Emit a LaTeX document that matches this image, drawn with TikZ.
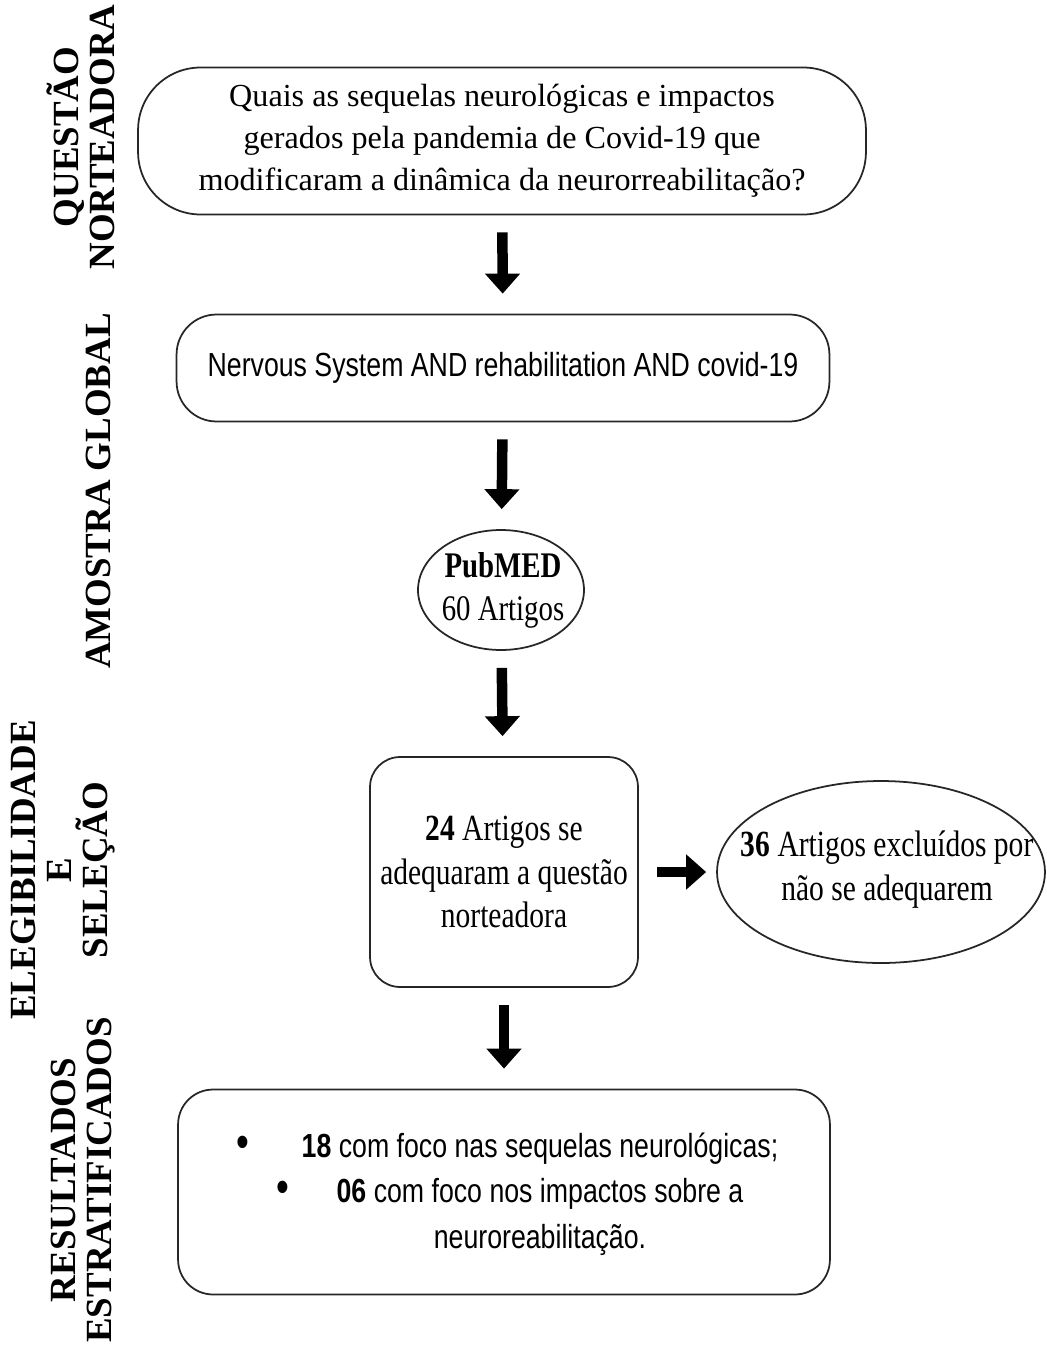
\documentclass[tikz,border=0pt]{standalone}
\usepackage{fontspec}
\setmainfont{Liberation Serif}
\newfontfamily\narrowserif[FakeStretch=0.8]{Liberation Serif}
\newfontfamily\narrowsans[FakeStretch=0.8]{Liberation Sans}
\usepackage{tikz}
\usetikzlibrary{positioning,shapes.geometric,arrows.meta}

\newcommand{\bigbullet}{{\fontsize{26}{26}\selectfont\textbullet}}

\begin{document}
\begin{tikzpicture}[x=0.02cm, y=-0.02cm,
                    flowbox/.style={draw=black!85, line width=1pt, align=center, inner sep=0pt},
                    ovalbox/.style={flowbox, ellipse},
                    sidelbl/.style={rotate=90, align=center, inner sep=0pt,
                                    font=\bfseries\fontsize{21}{20.5}\selectfont},
                    arr/.style={-{Triangle[length=0.4cm,width=0.68cm]}, line width=0.21cm,
                                shorten <=0.34cm, shorten >=0.4cm}
                ]
    \useasboundingbox (0,0) rectangle (1046,1349);

    % side labels
    \node[sidelbl] (lq) at (81,137) {QUEST\~AO\\NORTEADORA};
    \node[sidelbl] (la) at (98,491) {AMOSTRA GLOBAL};
    \node[sidelbl] (le) at (63,870) {ELEGIBILIDADE\\E\\SELE\c{C}\~AO};
    \node[sidelbl] (lr) at (81,1180) {RESULTADOS\\ESTRATIFICADOS};

    % flow
    \node[flowbox, minimum width=14.56cm, minimum height=2.94cm, rounded corners=1.25cm,
          font=\fontsize{18.3}{24}\selectfont] (quest) at (502,141)
        {Quais as sequelas neurológicas e impactos\\gerados pela pandemia de Covid-19 que\\modificaram a dinâmica da neurorreabilitação?};
    \node[flowbox, minimum width=13.06cm, minimum height=2.14cm, rounded corners=0.8cm,
          font=\narrowsans\fontsize{19}{22}\selectfont] (busca) at (503,368)
        {Nervous System AND rehabilitation AND covid-19};
    \node[ovalbox, minimum width=3.32cm, minimum height=2.4cm] (pub) at (501,590) {};
    \node[align=center, font=\narrowserif\fontsize{20.5}{24.5}\selectfont] (pubtxt) at (503,590)
        {\textbf{PubMED}\\60 Artigos};
    \node[flowbox, minimum width=5.36cm, minimum height=4.6cm, rounded corners=0.6cm,
          font=\narrowserif\fontsize{21}{25}\selectfont] (incl) at (504,872)
        {\textbf{24} Artigos se\\adequaram a questão\\norteadora};
    \node[ovalbox, minimum width=6.56cm, minimum height=3.64cm] (excl) at (881,872) {};
    \node[align=center, font=\narrowserif\fontsize{21}{25}\selectfont] (excltxt) at (887,870)
        {\textbf{36} Artigos excluídos por\\não se adequarem};
    \node[flowbox, minimum width=13.04cm, minimum height=4.1cm, rounded corners=0.7cm] (res) at (504,1192) {};
    \node[align=center, font=\narrowsans\fontsize{19}{26}\selectfont] (reslist) at (540,1194)
        {\llap{\bigbullet\hspace{1.05cm}}\textbf{18} com foco nas sequelas neurológicas;\\
         \llap{\bigbullet\hspace{0.95cm}}\textbf{06} com foco nos impactos sobre a\\
         neuroreabilitação.};

    \draw[arr] (quest) -- (busca);
    \draw[arr] (busca) -- (pub);
    \draw[arr] (pub) -- (incl);
    \draw[arr] (incl) -- (res);
    \draw[arr, shorten <=0.36cm, shorten >=0.2cm] (incl) -- (excl);
\end{tikzpicture}
\end{document}
